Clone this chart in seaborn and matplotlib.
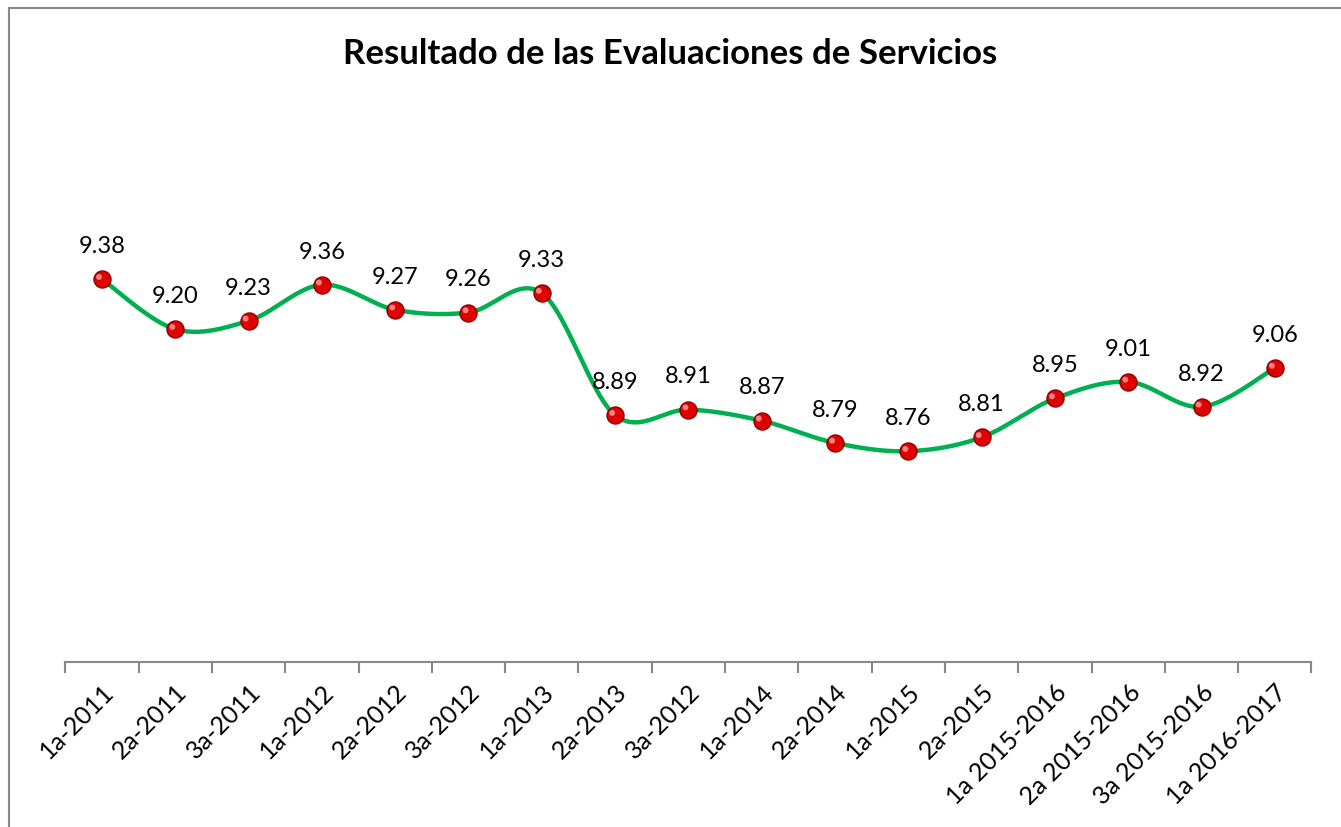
import numpy as np
import pandas as pd
import matplotlib
matplotlib.use("Agg")
import matplotlib.pyplot as plt
import seaborn as sns
from matplotlib.patches import Rectangle

periods = ["1a-2011", "2a-2011", "3a-2011", "1a-2012", "2a-2012", "3a-2012",
           "1a-2013", "2a-2013", "3a-2012", "1a-2014", "2a-2014", "1a-2015",
           "2a-2015", "1a 2015-2016", "2a 2015-2016", "3a 2015-2016", "1a 2016-2017"]
scores = [9.38, 9.20, 9.23, 9.36, 9.27, 9.26, 9.33, 8.89, 8.91, 8.87,
          8.79, 8.76, 8.81, 8.95, 9.01, 8.92, 9.06]


def smooth_curve(y, steps=40):
    # Excel-style smoothing: cubic Bezier segments with Catmull-Rom control points
    y = np.asarray(y, dtype=float)
    x = np.arange(len(y), dtype=float)
    xs, ys = [], []
    n = len(y)
    for i in range(n - 1):
        x0, y0 = x[i], y[i]
        x3, y3 = x[i + 1], y[i + 1]
        xm, ym = (x[i - 1], y[i - 1]) if i > 0 else (x0, y0)
        xp, yp = (x[i + 2], y[i + 2]) if i + 2 < n else (x3, y3)
        x1, y1 = x0 + (x3 - xm) / 6, y0 + (y3 - ym) / 6
        x2, y2 = x3 - (xp - x0) / 6, y3 - (yp - y0) / 6
        t = np.linspace(0, 1, steps, endpoint=(i == n - 2))
        a, b, c, d = (1 - t) ** 3, 3 * (1 - t) ** 2 * t, 3 * (1 - t) * t ** 2, t ** 3
        xs.append(a * x0 + b * x1 + c * x2 + d * x3)
        ys.append(a * y0 + b * y1 + c * y2 + d * y3)
    return np.concatenate(xs), np.concatenate(ys)


sns.set_style("white")
plt.rcParams["font.family"] = ["Lato", "DejaVu Sans"]
plt.rcParams["text.color"] = "black"
plt.rcParams["xtick.color"] = "black"

df = pd.DataFrame({"pos": np.arange(len(scores)), "score": scores})
cx, cy = smooth_curve(scores)
curve = pd.DataFrame({"x": cx, "y": cy})

fig = plt.figure(figsize=(13.41, 8.27), dpi=100)
ax = fig.add_axes([0.0487, 0.1995, 0.9293, 0.5333])

sns.lineplot(data=curve, x="x", y="y", ax=ax, color="#00B050", linewidth=3.2,
             sort=False, estimator=None)
sns.scatterplot(data=df, x="pos", y="score", ax=ax, color="#E00000", s=150,
                edgecolor="#8B0000", linewidth=1.0, zorder=5)
ax.scatter(df["pos"] - 0.04, df["score"] + 0.008, s=18, color="#FF8080",
           edgecolor="none", zorder=6)

for x, v in zip(df["pos"], df["score"]):
    ax.annotate(f"{v:.2f}", (x, v), xytext=(0, 16), textcoords="offset points",
                ha="center", va="bottom", fontsize=17, color="black")

ax.set_xlim(-0.5, len(scores) - 0.5)
ax.set_ylim(8.0, 9.59)
ax.set_xlabel("")
ax.set_ylabel("")
ax.set_yticks([])
ax.set_xticks(df["pos"])
ax.set_xticklabels(periods, rotation=45, ha="right", rotation_mode="anchor",
                   fontsize=18, color="black")
ax.set_xticks(np.arange(-0.5, len(scores), 1.0), minor=True)
ax.tick_params(axis="x", which="major", length=0, pad=13)
ax.tick_params(axis="x", which="minor", length=8, width=1.5, color="#888888",
               direction="out", bottom=True)
for side in ["top", "right", "left"]:
    ax.spines[side].set_visible(False)
ax.spines["bottom"].set_color("#888888")
ax.spines["bottom"].set_linewidth(1.5)

fig.text(0.5, 0.935, "Resultado de las Evaluaciones de Servicios",
         ha="center", va="center", fontsize=25, fontweight="bold", color="black")

fig.patches.append(Rectangle((9 / 1341, -0.1), 1.2, 1 - 8 / 827 + 0.1,
                             transform=fig.transFigure, fill=False,
                             edgecolor="#888888", linewidth=1.5))

fig.savefig("out.png", dpi=100)
